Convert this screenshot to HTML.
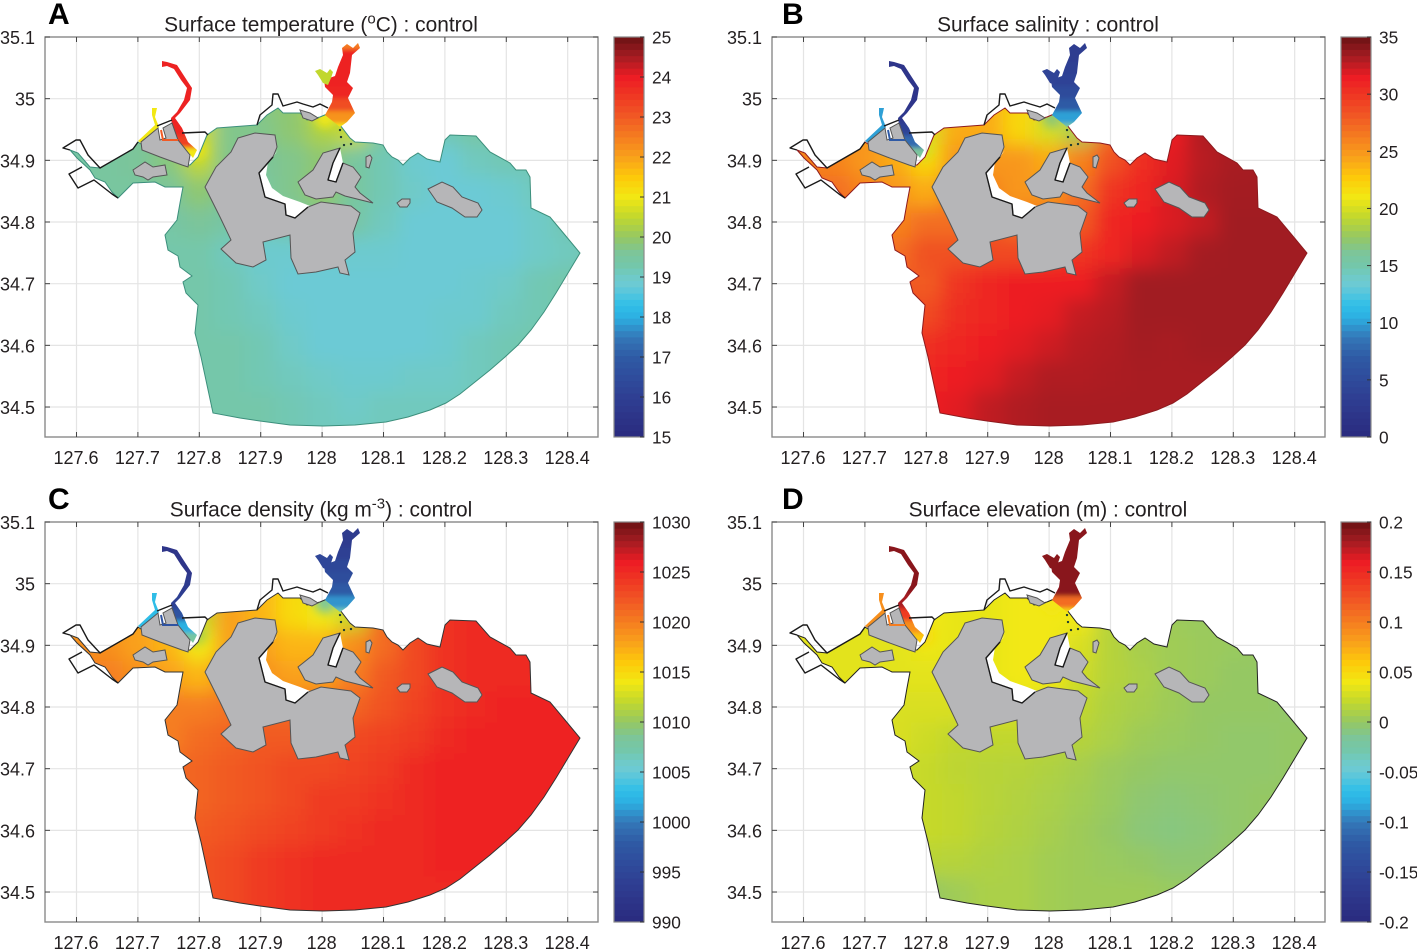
<!DOCTYPE html>
<html lang="en">
<head>
<meta charset="utf-8">
<title>Surface fields : control</title>
<style>
html,body{margin:0;padding:0;background:#fff}
svg{display:block}
text{font-family:"Liberation Sans",Arial,sans-serif;fill:#231f20}
</style>
</head>
<body>
<svg id="chart" xmlns="http://www.w3.org/2000/svg" width="1417" height="949" viewBox="0 0 1417 949">
<defs>
<filter id="blur-wide" filterUnits="userSpaceOnUse" x="0" y="0" width="1417" height="949"><feGaussianBlur stdDeviation="9"/></filter>
<filter id="blur-mid" filterUnits="userSpaceOnUse" x="0" y="0" width="1417" height="949"><feGaussianBlur stdDeviation="5"/></filter>
<filter id="blur-thin" filterUnits="userSpaceOnUse" x="0" y="0" width="1417" height="949"><feGaussianBlur stdDeviation="2"/></filter>
</defs>
</svg>
<script>
// ---- axis tick labels ----
const lonTicks = [127.6,127.7,127.8,127.9,128,128.1,128.2,128.3,128.4];
const latTicks = [34.5,34.6,34.7,34.8,34.9,35,35.1];
const tempTicks = [15,16,17,18,19,20,21,22,23,24,25];
const salinityTicks = [0,5,10,15,20,25,30,35];
const densityTicks = [990,995,1000,1005,1010,1015,1020,1025,1030];
const elevationTicks = [-0.2,-0.15,-0.1,-0.05,0,0.05,0.1,0.15,0.2];

// ---- colormap ----
const colorStopT = [0,.1,.2,.25,.3,.33,.38,.4,.43,.46,.5,.55,.6,.65,.7,.8,.85,.9,.95,1];
const colorStopHex = ['#2a2a7e','#2f3f93','#2f5aa5','#3478b8','#2cb0e2','#30bfe8','#6ccad5','#6fcac8','#74c7aa','#7cc59a','#95c863','#c1d72e','#f2e813','#fdc90a','#f9a11b','#f15a24','#ef3a23','#ed1c24','#a61c22','#6b1214'];

// ---- heatmap grid axes ----
const gridLons = [127.6,127.65,127.7,127.75,127.8,127.85,127.9,127.95,128,128.05,128.1,128.15,128.2,128.25,128.3,128.35,128.4,128.45];
const gridLats = [35,34.95,34.9,34.85,34.8,34.75,34.7,34.65,34.6,34.55,34.5,34.45];

// ---- surface fields: rows follow gridLats, columns follow gridLons ----
const tempField = [
[19.5,19.5,19.5,19.6,20.3,19.8,19.8,19.9,20.6,21,19.5,19.3,19.2,19.2,19.2,19.2,19.2,19.2],
[19.5,19.5,19.6,19.8,20.6,19.7,19.7,19.9,20.3,20.6,19.5,19.2,19.2,19.4,19.3,19.2,19.2,19.2],
[19.4,19.5,19.6,19.8,20.5,19.7,19.6,19.7,19.9,19.5,19.2,18.9,18.8,19.1,19.2,19.2,19.2,19.2],
[19.4,19.5,19.5,19.6,19.9,19.6,19.5,19.7,20,19.5,19.2,19,18.8,18.8,18.9,19.1,19.2,19.2],
[19.4,19.4,19.4,19.4,19.6,19.4,19.2,19.4,19.6,19.4,19.1,18.8,18.8,18.8,18.8,19,19.2,19.3],
[19.3,19.3,19.3,19.3,19.3,19.1,18.9,18.9,18.9,18.9,18.9,18.8,18.8,18.8,18.8,19,19.1,19.3],
[19.3,19.3,19.3,19.3,19.3,19.2,19,18.8,18.8,18.8,18.8,18.8,18.8,18.9,19,19.2,19.3,19.3],
[19.3,19.3,19.3,19.3,19.3,19.2,19.1,18.9,18.8,18.8,18.8,18.8,18.9,18.9,19.1,19.2,19.3,19.3],
[19.3,19.3,19.3,19.3,19.3,19.3,19.2,19,18.8,18.8,18.8,18.8,18.9,19.1,19.2,19.3,19.3,19.3],
[19.3,19.3,19.3,19.3,19.3,19.3,19.2,19.1,19,18.9,18.9,19,19,19.1,19.2,19.3,19.3,19.3],
[19.3,19.3,19.3,19.3,19.3,19.3,19.3,19.2,19.1,19,19.1,19.1,19.1,19.1,19.2,19.2,19.2,19.2],
[19.3,19.3,19.3,19.3,19.3,19.3,19.3,19.2,19.1,19.1,19.1,19.1,19.1,19.1,19.2,19.2,19.2,19.2]
];
const salinityField = [
[25,25,25,24,20,24,24,22,22,15,26,30,32,33,33.3,33.3,33.3,33.3],
[25,25,25,24,20,24,24,22,20,18,27,29,31.5,33,33.3,33.3,33.3,33.3],
[26,26,25,24,22,25,25,25,24,26,28.5,30.5,31.8,32.8,33.2,33.3,33.3,33.3],
[27,27,26,25,24,26,26,25,25,27,30,31,32,33,33.3,33.3,33.3,33.3],
[27,27,27,26,27,27,28,27,27,28,31,31.5,32,32.5,33.4,33.4,33.4,33.4],
[27,27,27,27,28.5,28.5,29,29,29.5,30,31,32,32.6,33.3,33.4,33.4,33.4,33.4],
[28,28,28,28,28,30,31,31.5,31.5,31.5,32.5,33.4,33.4,33.4,33.4,33.4,33.4,33.4],
[29,29,29,29,29,30.5,31,31.3,31.7,32.5,32.8,33.4,33.4,33.4,33.4,33.4,33.4,33.4],
[30.5,30.5,30.5,30.5,30.5,31,31.5,31.8,32.3,32.8,33,33.3,33.2,33.4,33.4,33.4,33.4,33.4],
[31,31,31,31,31,31.5,31.8,32.5,33,33,33.1,33.2,33.2,33.2,33.2,33.2,33.2,33.2],
[31.5,31.5,31.5,31.5,31.5,31.8,32.6,33,33.2,33.2,33.2,33.2,33.2,33.2,33.2,33.2,33.2,33.2],
[31.5,31.5,31.5,31.5,31.5,31.8,32.6,33,33.2,33.2,33.2,33.2,33.2,33.2,33.2,33.2,33.2,33.2]
];
const densityField = [
[1018,1018,1018,1017,1012,1017,1017,1015,1013,1008,1020,1023,1024.5,1025,1025,1025,1025,1025],
[1018,1018,1018,1017,1012,1018,1017,1015,1014,1012,1021,1023,1024.5,1025,1025,1025,1025,1025],
[1019,1019,1018,1017,1014,1018,1018,1017,1017,1019,1021,1023,1024.5,1025,1025,1025,1025,1025],
[1020,1020,1019,1018,1017,1019,1019,1018,1018,1020,1022,1023,1024.5,1025,1025,1025,1025,1025],
[1020,1020,1020,1020,1020,1020.5,1021,1021,1021,1021.5,1022.5,1023.5,1024.5,1025,1025.5,1025.5,1025.5,1025.5],
[1020,1020,1020,1020,1021,1021.5,1022,1022,1022.5,1023,1023.5,1024,1025,1025.5,1025.5,1025.5,1025.5,1025.5],
[1021,1021,1021,1021,1021.5,1022,1022.5,1023,1023,1023.5,1024,1025,1025.5,1025.5,1025.5,1025.5,1025.5,1025.5],
[1021,1021,1021,1021,1021.5,1022,1022.5,1023,1024,1024,1024.5,1025,1025.5,1025.5,1025.5,1025.5,1025.5,1025.5],
[1022,1022,1022,1022,1022,1022.5,1023,1023.5,1024,1024.5,1025,1025,1025.5,1025.5,1025.5,1025.5,1025.5,1025.5],
[1022,1022,1022,1022,1022.5,1023,1024,1024.5,1025,1025,1025,1025,1025.5,1025.5,1025.5,1025.5,1025.5,1025.5],
[1022.5,1022.5,1022.5,1022.5,1022.5,1023,1024,1024.5,1025,1025,1025,1025,1025,1025,1025,1025,1025,1025],
[1022.5,1022.5,1022.5,1022.5,1022.5,1023,1024,1024.5,1025,1025,1025,1025,1025,1025,1025,1025,1025,1025]
];
const elevationField = [
[.034,.034,.034,.036,.04,.036,.036,.04,.04,.04,.02,.01,.005,.005,0,0,0,0],
[.034,.034,.034,.036,.04,.036,.036,.04,.04,.04,.015,.008,.003,.002,0,0,0,0],
[.034,.034,.034,.034,.038,.036,.036,.04,.04,.03,.015,.008,.005,.003,.002,0,0,0],
[.034,.034,.034,.034,.034,.034,.036,.04,.04,.025,.015,.01,.005,.003,0,0,0,0],
[.03,.03,.03,.03,.03,.03,.03,.03,.028,.02,.012,.008,.004,0,0,0,-.002,0],
[.03,.03,.03,.03,.025,.02,.02,.02,.018,.015,.01,.004,.002,0,-.002,-.002,0,0],
[.025,.025,.025,.025,.022,.018,.016,.015,.012,.008,.003,0,-.002,-.002,-.002,-.002,0,0],
[.022,.022,.022,.022,.022,.02,.016,.013,.01,.006,.002,-.004,-.006,-.004,-.002,0,0,0],
[.022,.022,.022,.022,.022,.02,.015,.012,.008,.004,0,-.006,-.008,-.006,-.002,0,0,0],
[.016,.016,.016,.016,.016,.015,.012,.01,.006,.004,.002,0,-.004,-.004,0,.002,.002,.002],
[0,0,0,0,0,.005,.01,.01,.006,.004,.004,.004,.002,.002,.002,.002,.002,.002],
[0,0,0,0,0,.005,.01,.01,.006,.004,.004,.004,.002,.002,.002,.002,.002,.002]
];

// ---- river profiles: value by latitude ----
const eastRiverLats = [35.09,35.07,35.05,35.03,35.01,34.99,34.97,34.95];
const eastRiverTemp = [22.5,23.9,23.9,23.9,23.8,23.2,22.2,21];
const eastRiverSalinity = [3,3,3.5,4,5,7,10,16];
const eastRiverDensity = [993,993,994,995,996,998,1001,1007];
const eastRiverElevation = [.19,.19,.19,.19,.19,.19,.11,.05];
const westRiverLats = [35.06,35.03,35,34.97,34.95,34.93,34.91,34.89];
const westRiverTemp = [23.9,23.9,23.9,23.9,23.8,23.4,21,20.5];
const westRiverSalinity = [2,2,2,2.5,4,8,16,20];
const westRiverDensity = [992,992,993,994,997,1002,1008,1012];
const westRiverElevation = [.19,.19,.19,.18,.14,.09,.06,.05];

// ---- single-value channels and plume spots, one value per panel ----
const sideChannelValues = [21,10,1003,.09];
const linkChannelValues = [23,7,997,.1];
const eastBranchValues = [20.5,4,995,.19];
const plumeLons = [127.796,128.005];
const plumeLats = [34.917,34.969];
const plumeTemp = [20.9,21];
const plumeSalinity = [20,17];
const plumeDensity = [1011,1008];
const plumeElevation = [.05,.042];

// ---- map geometry in mesh units (east, north); converted with meshLon / meshLat ----
const seaMesh = [25,287,33,284,45,270,55,269,88,288,93,295,105,287,140,272,145,272,153,280,162,302,172,309,212,312,222,322,233,329,238,324,255,324,262,317,275,320,282,323,295,312,305,299,310,295,328,294,338,292,342,285,347,280,353,277,358,272,365,279,373,284,382,278,395,275,400,297,405,302,431,301,445,285,465,274,471,267,481,267,485,260,486,229,505,220,520,202,535,184,523,164,511,144,499,125,486,107,473,92,460,80,445,67,430,55,415,43,401,34,385,27,363,20,341,15,310,12,278,11,245,12,215,16,195,19,168,24,162,52,156,80,150,104,153,132,141,144,138,155,147,161,135,170,133,181,123,187,120,202,132,217,135,234,138,250,120,250,110,255,88,254,73,239,67,245,60,255,50,259,45,267,32,279];
const westRiverMesh = [117,376,122,375,132,372,143,355,147,349,145,337,135,324,130,319,137,309,143,295,152,287,148,279,133,297,127,312,126,319,132,325,139,337,142,349,136,357,129,368,122,371,117,370];
const sideChannelMesh = [107,329,112,329,110,320,114,310,96,294,93,296,110,312,107,322];
const linkChannelMesh = [116,307,118,297,133,297];
const eastRiverMesh = [297,389,302,393,308,389,313,394,315,389,307,382,305,364,302,355,308,349,303,339,310,324,302,315,295,310,280,322,287,335,288,342,280,350,279,357,290,361,293,370,298,382];
const eastBranchMesh = [278,354,273,362,270,366,275,368,282,364,285,368,288,365,286,359,283,352];
const islandMeshes = [
[193,299,210,304,230,302,232,290,228,280,214,264,220,240,240,233,241,222,250,219,263,230,276,235,306,231,315,224,308,204,310,185,300,177,304,162,295,164,293,170,271,165,253,163,246,179,245,202,218,195,221,177,208,170,191,174,176,188,186,197,175,220,160,250,171,270,186,285],
[96,295,97,287,115,280,137,272,143,270,145,282,133,297,127,314,118,309,121,299,115,297,113,309],
[88,267,100,275,108,270,120,272,122,262,108,260,103,257,98,260,90,262],
[295,289,278,284,268,267,253,255,260,242,271,238,288,240,291,245,300,241,328,234,315,244,310,250,316,260,308,270,298,274,291,255,283,257,288,274],
[383,248,397,255,408,250,417,240,433,234,437,227,432,220,420,220,407,229,392,235],
[352,234,357,238,365,238,365,234,362,230,355,230],
[321,280,325,282,327,279,324,269,321,270],
[255,327,265,324,273,319,267,316,258,319]
];
const whitePatchMeshes = [
[233,287,223,275,221,262,227,249,238,241,255,235,265,231,263,230,250,219,241,222,240,233,220,240,214,264,228,280],
[295,289,288,274,283,257,291,255,298,274]
];
const blackLineMeshes = [
[25,287,18,289,31,297,35,297,43,282,55,269,88,288,93,295],
[37,270,24,263,33,249,49,257,67,243,73,239],
[212,312,215,322,227,332,228,343,233,343,238,331,252,335,258,333,268,330,275,333,283,329],
[228,280,214,264,220,240,240,233,241,222,250,219,263,230],
[112,311,127,317],
[137,304,160,305,163,302],
[295,289,288,274,283,257,291,255,298,274]
];
const isletMesh = [295,307,296,300,299,292,306,293];

// ---- axis and projection functions ----
const NS = 'http://www.w3.org/2000/svg';
const root = document.getElementById('chart');
const meshLon = e => 127.6 + (e - 31.5) / 614;
const meshLat = n => 34.5 + (n - 30) / 616.7;
const hexRgb = h => [1,3,5].map(i => parseInt(h.substr(i,2),16));
function colormap(t){
  t = Math.max(0, Math.min(1, t));
  let i = 0;
  while (i < colorStopT.length - 2 && t > colorStopT[i+1]) i++;
  const f = (t - colorStopT[i]) / (colorStopT[i+1] - colorStopT[i]);
  const a = hexRgb(colorStopHex[i]), b = hexRgb(colorStopHex[i+1]);
  return 'rgb(' + a.map((v,k) => Math.round(v + (b[k]-v)*f)).join(',') + ')';
}
function svgEl(parent, tag, attrs){
  const node = document.createElementNS(NS, tag);
  for (const k in attrs) node.setAttribute(k, attrs[k]);
  parent.appendChild(node);
  return node;
}

const panels = [
 {key:'temperature', letter:'A', ox:0, oy:0, title:['Surface temperature (','o','C) : control'], ticks:tempTicks, field:tempField, east:eastRiverTemp, west:westRiverTemp, plume:plumeTemp, outline:'#3c8f7c'},
 {key:'salinity', letter:'B', ox:727, oy:0, title:['Surface salinity : control'], ticks:salinityTicks, field:salinityField, east:eastRiverSalinity, west:westRiverSalinity, plume:plumeSalinity, outline:'#8e1a1e'},
 {key:'density', letter:'C', ox:0, oy:485, title:['Surface density (kg m','-3',') : control'], ticks:densityTicks, field:densityField, east:eastRiverDensity, west:westRiverDensity, plume:plumeDensity, outline:'#333'},
 {key:'elevation', letter:'D', ox:727, oy:485, title:['Surface elevation (m) : control'], ticks:elevationTicks, field:elevationField, east:eastRiverElevation, west:westRiverElevation, plume:plumeElevation, outline:'#222'}
];

panels.forEach((p, pi) => {
  const xScale = lon => p.ox + 76.5 + (lon - 127.6) * 614;
  const yScale = lat => p.oy + 37 + (35.1 - lat) * 616.7;
  const left = p.ox + 45, right = p.ox + 598, top = p.oy + 37, bottom = p.oy + 437;
  const vMin = p.ticks[0], vMax = p.ticks[p.ticks.length-1];
  const valueColor = v => colormap((v - vMin) / (vMax - vMin));
  const toPoints = m => {
    const out = [];
    for (let i = 0; i < m.length; i += 2) out.push(xScale(meshLon(m[i])).toFixed(1) + ',' + yScale(meshLat(m[i+1])).toFixed(1));
    return out.join(' ');
  };

  const g = svgEl(root, 'g', {});
  
  

  // gridlines
  lonTicks.forEach(t => {
    const l = svgEl(g, 'line', {x1:xScale(t), x2:xScale(t), y1:top, y2:bottom, stroke:'#e4e4e4', 'stroke-width':1.2});
    
    
  });
  latTicks.forEach(t => {
    const l = svgEl(g, 'line', {x1:left, x2:right, y1:yScale(t), y2:yScale(t), stroke:'#e4e4e4', 'stroke-width':1.2});
    
    
  });

  // clip paths
  const defs = root.querySelector('defs');
  const seaClip = svgEl(defs, 'clipPath', {id:'sea-' + pi});
  svgEl(seaClip, 'polygon', {points:toPoints(seaMesh)});
  const eastClip = svgEl(defs, 'clipPath', {id:'east-' + pi});
  svgEl(eastClip, 'polygon', {points:toPoints(eastRiverMesh)});
  const westClip = svgEl(defs, 'clipPath', {id:'west-' + pi});
  svgEl(westClip, 'polygon', {points:toPoints(westRiverMesh)});

  // field heatmap
  const seaGroup = svgEl(g, 'g', {'clip-path':'url(#sea-' + pi + ')'});
  
  
  const cellGroup = svgEl(seaGroup, 'g', {filter:'url(#blur-wide)'});
  const dLon = 0.05, dLat = 0.05;
  p.field.forEach((row, r) => row.forEach((v, c) => {
    const padL = c === 0 ? 40 : 0, padR = c === row.length-1 ? 40 : 0;
    const padT = r === 0 ? 40 : 0, padB = r === p.field.length-1 ? 40 : 0;
    const x0 = xScale(gridLons[c] - dLon/2), x1 = xScale(gridLons[c] + dLon/2);
    const y0 = yScale(gridLats[r] + dLat/2), y1 = yScale(gridLats[r] - dLat/2);
    const cell = svgEl(cellGroup, 'rect', {x:x0 - padL, y:y0 - padT, width:x1 - x0 + padL + padR + 0.5, height:y1 - y0 + padT + padB + 0.5, fill:valueColor(v)});
    
    
  }));
  const plumeGroup = svgEl(seaGroup, 'g', {filter:'url(#blur-mid)'});
  p.plume.forEach((v, i) => {
    const spot = svgEl(plumeGroup, 'circle', {cx:xScale(plumeLons[i]), cy:yScale(plumeLats[i]), r:10, fill:valueColor(v)});
    
    
  });

  // sea outline
  const seaEdge = svgEl(g, 'polygon', {points:toPoints(seaMesh), fill:'none', stroke:p.outline, 'stroke-width':1});
  
  

  // rivers
  [[eastClip, eastRiverLats, p.east, 'east-river', 'east'], [westClip, westRiverLats, p.west, 'west-river', 'west']].forEach(spec => {
    const holder = svgEl(g, 'g', {'clip-path':'url(#' + spec[0].id + ')'});
    
    
    const inner = svgEl(holder, 'g', {filter:'url(#blur-thin)'});
    spec[1].forEach((lat, i) => {
      const next = spec[1][i+1], prev = spec[1][i-1];
      const yTop = prev === undefined ? yScale(lat) - 30 : yScale((lat + prev)/2);
      const yBot = next === undefined ? yScale(lat) + 30 : yScale((lat + next)/2);
      const strip = svgEl(inner, 'rect', {x:xScale(127.7), y:yTop, width:xScale(128.2) - xScale(127.7), height:yBot - yTop + 0.5, fill:valueColor(spec[2][i])});
      
      
    });
  });
  const side = svgEl(g, 'polygon', {points:toPoints(sideChannelMesh), fill:valueColor(sideChannelValues[pi])});
  
  
  const branch = svgEl(g, 'polygon', {points:toPoints(eastBranchMesh), fill:valueColor(eastBranchValues[pi])});
  
  

  // dry patches
  whitePatchMeshes.forEach(m => {
    const w = svgEl(g, 'polygon', {points:toPoints(m), fill:'#fff'});
    
    
  });

  // islands
  islandMeshes.forEach(m => {
    const isl = svgEl(g, 'polygon', {points:toPoints(m), fill:'#b6b6b8', stroke:'#555', 'stroke-width':1});
    
    
  });
  const link = svgEl(g, 'polyline', {points:toPoints(linkChannelMesh), fill:'none', stroke:valueColor(linkChannelValues[pi]), 'stroke-width':2});
  
  

  // black coast lines
  blackLineMeshes.forEach(m => {
    const coast = svgEl(g, 'polyline', {points:toPoints(m), fill:'none', stroke:'#1a1a1a', 'stroke-width':1.4, 'stroke-linejoin':'round'});
    
    
  });
  for (let i = 0; i < isletMesh.length; i += 2) {
    const islet = svgEl(g, 'circle', {cx:xScale(meshLon(isletMesh[i])), cy:yScale(meshLat(isletMesh[i+1])), r:1.2, fill:'#1d3a33'});
    
    
  }

  // axes frame and ticks
  const frame = svgEl(g, 'rect', {x:left, y:top, width:right-left, height:bottom-top, fill:'none', stroke:'#8a8a8a', 'stroke-width':1.4});
  
  
  lonTicks.forEach(t => {
    const tb = svgEl(g, 'line', {x1:xScale(t), x2:xScale(t), y1:bottom, y2:bottom-5, stroke:'#444', 'stroke-width':1});
    
    
    const tt = svgEl(g, 'line', {x1:xScale(t), x2:xScale(t), y1:top, y2:top+5, stroke:'#444', 'stroke-width':1});
    
    
    const lab = svgEl(g, 'text', {x:xScale(t) - 0.5, y:bottom + 27, 'text-anchor':'middle', 'font-size':18});
    
    
    lab.textContent = String(t);
  });
  latTicks.forEach(t => {
    const tl = svgEl(g, 'line', {x1:left, x2:left+5, y1:yScale(t), y2:yScale(t), stroke:'#444', 'stroke-width':1});
    
    
    const tr = svgEl(g, 'line', {x1:right, x2:right-5, y1:yScale(t), y2:yScale(t), stroke:'#444', 'stroke-width':1});
    
    
    const lab = svgEl(g, 'text', {x:p.ox + 35, y:yScale(t) + 7, 'text-anchor':'end', 'font-size':18});
    
    
    lab.textContent = String(t);
  });

  // title
  const title = svgEl(g, 'text', {x:p.ox + 321, y:p.oy + 31.5, 'text-anchor':'middle', 'font-size':20.9});
  
  
  p.title.forEach((part, i) => {
    const span = svgEl(title, 'tspan', i === 1 ? {dy:-8, 'font-size':15} : (i === 2 ? {dy:8} : {}));
    span.textContent = part;
  });
  const letter = svgEl(g, 'text', {x:p.ox + (p.ox ? 55 : 48), y:p.oy + 24, 'font-size':30, 'font-weight':'bold'});
  
  
  letter.style.fill = '#000';
  letter.textContent = p.letter;

  // colorbar
  const barX = p.ox + 614, barW = 30, bands = 64;
  for (let i = 0; i < bands; i++) {
    const bandH = (bottom - top) / bands;
    const band = svgEl(g, 'rect', {x:barX, y:bottom - (i+1)*bandH, width:barW, height:bandH + 0.4, fill:colormap((i + 0.5)/bands)});
    
    
  }
  const barFrame = svgEl(g, 'rect', {x:barX, y:top, width:barW, height:bottom-top, fill:'none', stroke:'#8a8a8a', 'stroke-width':1.2});
  
  
  p.ticks.forEach(v => {
    const y = bottom - (v - vMin) / (vMax - vMin) * (bottom - top);
    const tk = svgEl(g, 'line', {x1:barX + barW - 4, x2:barX + barW, y1:y, y2:y, stroke:'#333', 'stroke-width':1});
    
    
    const lab = svgEl(g, 'text', {x:barX + barW + 8, y:y + 6.5, 'font-size':17.3});
    
    
    lab.textContent = String(v);
  });
});
</script>
</body>
</html>
